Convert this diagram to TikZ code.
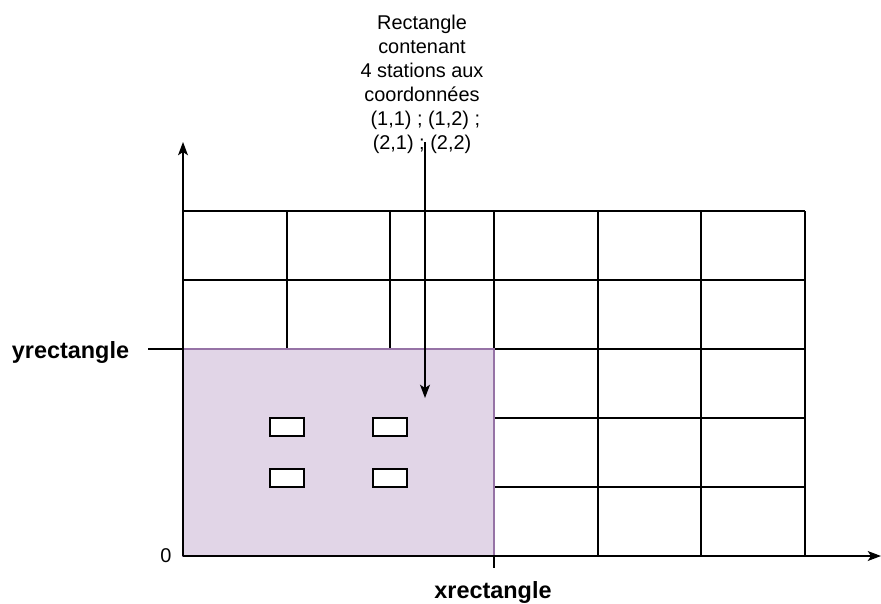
\documentclass[tikz,border=0pt]{standalone}
\usepackage{fontspec}
\setmainfont{Liberation Sans}
\usetikzlibrary{arrows.meta}
\definecolor{zonefill}{HTML}{E1D5E7}
\definecolor{zonedraw}{HTML}{9673A6}
\tikzset{
  trait/.style={line width=0.035cm, black},
  axe/.style={trait, -{Stealth[length=0.4cm, width=0.3cm, inset=0.1cm]}},
  station/.style={trait, fill=white},
  etiquette/.style={font=\fontsize{20}{24}\selectfont\bfseries},
}
\begin{document}
\begin{tikzpicture}[x=0.03cm, y=-0.03cm]
  \useasboundingbox (0,0) rectangle (881,603);
  % Drawing grid
  \foreach \ya in {211,280,349,418,487,556}
    \draw [trait] (183,\ya) -- (805,\ya);%
  \foreach \xa in {183,287,390,494,598,701,805}
    \draw [trait] (\xa,211) -- (\xa,556);%

  % Drawing rectangle zone
  \draw [line width=0.035cm, draw=zonedraw, fill=zonefill] (183,349) rectangle (494,556);%

  % Marking stations
  \draw [station] (270,418) rectangle (304,436);%
  \draw [station] (373,418) rectangle (407,436);%
  \draw [station] (270,469) rectangle (304,487);%
  \draw [station] (373,469) rectangle (407,487);%

  % Axes
  \coordinate (O) at (183,556);
  \coordinate (Ytip) at (183,142);
  \coordinate (Xtip) at (881,556);
  \draw [axe] (O) -- (Ytip);%
  \draw [axe] (O) -- (Xtip);%

  % Marking origin
  \node (zero) at (166,556) {\fontsize{17}{20}\selectfont 0};%

  % Marking yrectangle
  \node [etiquette] (ylab) at (70.5,352) {yrectangle};%
  \coordinate (ytick) at (148,349);
  \coordinate (yend) at (183,349);
  \draw [trait] (ytick) -- (yend);%

  % Marking xrectangle
  \node [etiquette] (xlab) at (493,592) {xrectangle};%
  \coordinate (xtick) at (494,556);
  \coordinate (xend) at (494,568);
  \draw [trait] (xtick) -- (xend);%

  % Note on the rectangle
  \node [align=center, font=\fontsize{17}{20.5}\selectfont, inner sep=0pt] (note) at (422,84)
    {Rectangle\\contenant\\4 stations aux\\coordonn\'ees\\\hspace*{0.2cm}(1,1) ; (1,2) ;\\(2,1) ; (2,2)};%
  \coordinate (noteout) at (425,142);
  \coordinate (target) at (425,398);
  \draw [axe] (noteout) -- (target);%
\end{tikzpicture}
\end{document}
